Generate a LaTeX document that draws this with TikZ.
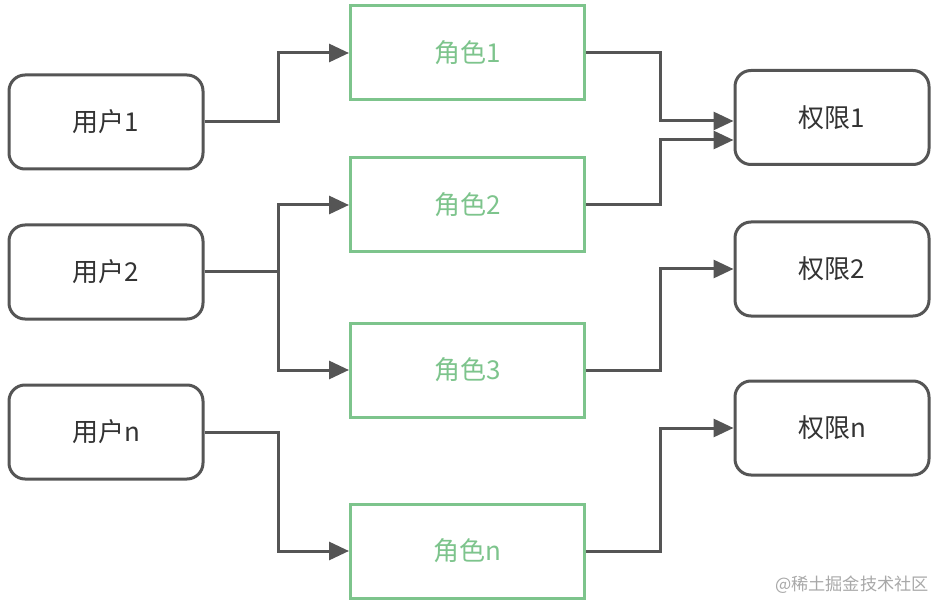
\documentclass[tikz,border=0pt]{standalone}
\usepackage{fontspec}
\setmainfont{Noto Sans CJK SC}
\usetikzlibrary{arrows.meta}
\definecolor{ink}{HTML}{555555}
\definecolor{leaf}{HTML}{7DC48C}
\definecolor{mark}{HTML}{A8A8A8}

\begin{document}
\begin{tikzpicture}[x=0.5pt, y=-0.5pt, font=\fontsize{13}{15}\selectfont]
\tikzset{
  user/.style={draw=ink, line width=1.5pt, rounded corners=8pt, fill=white,
    minimum width=97pt, minimum height=47pt, text=black!80},
  role/.style={draw=leaf, line width=1.5pt, fill=white,
    minimum width=117pt, minimum height=47pt, text=leaf},
  perm/.style={user},
  link/.style={draw=ink, line width=1.5pt, -{Triangle[length=10pt, width=9pt]}}}
\useasboundingbox (0,0) rectangle (942,604);

% ---------------- users ----------------
\node[user] (u1) at (106,122) {用户1};
\node[user] (u2) at (106,272) {用户2};
\node[user] (un) at (106,432) {用户n};

% ---------------- roles ----------------
\node[role] (r1) at (467.5,53)  {角色1};
\node[role] (r2) at (467.5,205) {角色2};
\node[role] (r3) at (467.5,370) {角色3};
\node[role] (rn) at (467.5,551) {角色n};

% ---------------- permissions ----------------
\node[perm] (p1) at (832,117.5) {权限1};
\node[perm] (p2) at (832,269)   {权限2};
\node[perm] (pn) at (832,428)   {权限n};

% ---------------- user -> role ----------------
\draw[link] (u1.east) -- ++(74,0) |- (r1.west);
\draw[link] (u2.east) -- ++(74,0) |- (r2.west);
\draw[link] (u2.east) -- ++(74,0) |- (r3.west);
\draw[link] (un.east) -- ++(74,0) |- (rn.west);

% ---------------- role -> permission ----------------
\draw[link] (r1.east) -- ++(74,0) |- ([yshift=-1.75pt]p1.west);
\draw[link] (r2.east) -- ++(74,0) |- ([yshift=-11.25pt]p1.west);
\draw[link] (r3.east) -- ++(74,0) |- (p2.west);
\draw[link] (rn.east) -- ++(74,0) |- (pn.west);

\node[text=mark, font=\fontsize{8.6}{10}\selectfont, anchor=east] (wm) at (936,585) {@稀土掘金技术社区};
\end{tikzpicture}
\end{document}
